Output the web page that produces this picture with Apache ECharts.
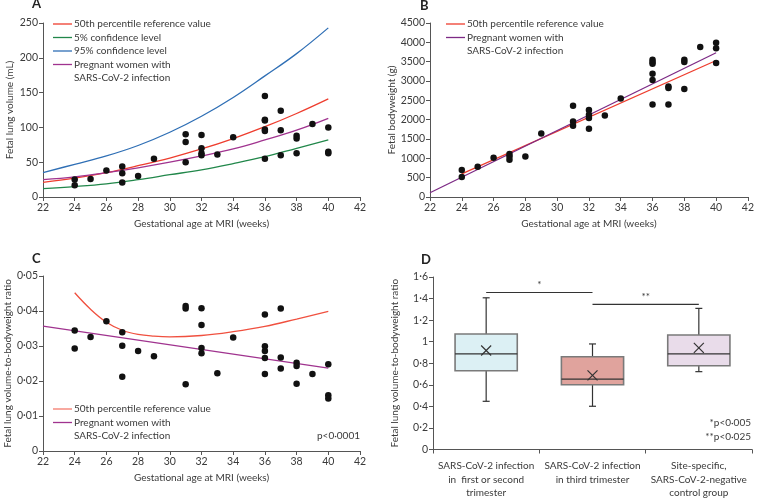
<!DOCTYPE html>
<html><head><meta charset="utf-8">
<script src="https://cdn.jsdelivr.net/npm/echarts@6/dist/echarts.min.js"></script>
<style>html,body{margin:0;padding:0;background:#fff}#c{width:757px;height:500px}</style>
</head><body><div id="c"></div>
<script>
const FONT = 'Lato, "Liberation Sans", sans-serif';
const FS = 10;      // titles / legend / annotations
const FT = 10.5;    // tick labels
const TXT = '#3a3a3a';
const AX = '#555';

// ---------- Panel A: fetal lung volume ----------
const lungVolumePts = [[24,25],[24,17],[25,26],[26,38],[27,44],[27,34],[27,21],[28,30],[29,55],
  [31,90],[31,79],[31,50],[32,89],[32,70],[32,63],[32,60],[33,61],[34,86],
  [36,145],[36,111],[36,110],[36,97],[36,95],[36,55],[37,124],[37,96],[37,60],
  [38,88],[38,84],[38,63],[39,105],[40,100],[40,65],[40,63]];
const curveWeeks = [22,24,26,28,30,32,34,36,38,40];
const lungRef50 = [21,27,35,45,56,69,84,101,120,141];
const lungRef5  = [12,15,19,25,32,39,48,58,70,82];
const lungRef95 = [35,47,59,74,93,116,143,174,206,243];
const lungCovid = [25,29,35,42,50,59,69,82,96,113];

// ---------- Panel B: fetal bodyweight ----------
const bodyweightPts = [[24,700],[24,520],[25,785],[26,1015],[27,1110],[27,1050],[27,965],[28,1045],[29,1645],
  [31,2360],[31,1955],[31,1845],[32,2250],[32,2130],[32,2045],[32,1765],[33,2105],[34,2545],
  [36,3550],[36,3490],[36,3445],[36,3190],[36,3025],[36,2390],[37,2860],[37,2820],[37,2390],
  [38,3550],[38,3490],[38,2790],[39,3880],[40,3990],[40,3850],[40,3465]];
const bwRefWeeks = [24,40];
const bwRef50 = [600,3530];
const bwCovidWeeks = [22,40];
const bwCovid = [110,3730];

// ---------- Panel C: lung volume-to-bodyweight ratio ----------
const ratioPts = [[24,0.0344],[24,0.0293],[25,0.0326],[26,0.0371],[27,0.0339],[27,0.0301],[27,0.0212],
  [28,0.0286],[29,0.0271],[31,0.0414],[31,0.0407],[31,0.0191],[32,0.0408],[32,0.0360],[32,0.0294],[32,0.0279],
  [33,0.0222],[34,0.0324],[36,0.0390],[36,0.0299],[36,0.0286],[36,0.0266],[36,0.0220],
  [37,0.0407],[37,0.0267],[37,0.0236],[38,0.0252],[38,0.0243],[38,0.0192],[39,0.0220],
  [40,0.0248],[40,0.0159],[40,0.0150]];
const ratioRefWeeks = [24,25,26,27,28,29,30,32,34,36,38,40];
const ratioRef50 = [0.0452,0.0405,0.0368,0.0345,0.0333,0.0328,0.0326,0.0330,0.0341,0.0356,0.0377,0.0399];
const ratioCovidWeeks = [22,40];
const ratioCovid = [0.0357,0.0237];

// ---------- Panel D: box plots ----------
const groups = ['SARS-CoV-2 infection\nin  first or second\ntrimester', 'SARS-CoV-2 infection\nin third trimester', 'Site-specific,\nSARS-CoV-2-negative\ncontrol group'];
const boxMin    = [0.447, 0.401, 0.722];
const boxQ1     = [0.731, 0.600, 0.777];
const boxMedian = [0.887, 0.652, 0.887];
const boxQ3     = [1.071, 0.860, 1.062];
const boxMax    = [1.407, 0.979, 1.309];
const boxMean   = [0.918, 0.688, 0.942];
const boxColors = ['#dcf0f4', '#e0a39d', '#e9dcea'];
const sigPairs  = [[0,1,1.456,'*'],[1,2,1.346,'**']];

const weekTicks = {min:22, max:42, interval:2};
const legendA = ['50th percentile reference value','5% confidence level','95% confidence level','Pregnant women with\nSARS-CoV-2 infection'];
const colorsA = ['#ee3d2e','#21874a','#2f6fb5','#a0338f'];

const zip = (xs, ys) => xs.map((x,i)=>[x, ys[i]]);
const dot = v => String(v).replace('.', '\u00b7');

function xValAxis(gi){
  return {type:'value', gridIndex:gi, min:weekTicks.min, max:weekTicks.max, interval:weekTicks.interval,
    name:'Gestational age at MRI (weeks)', nameLocation:'middle', nameGap:22,
    nameTextStyle:{fontFamily:FONT, fontSize:FS, color:TXT},
    axisLine:{lineStyle:{color:AX, width:1}}, axisTick:{show:true, length:4, lineStyle:{color:AX}},
    axisLabel:{fontFamily:FONT, fontSize:FT, color:TXT, margin:5}, splitLine:{show:false}};
}
function yAxis(gi, name, min, max, interval, gap, fmt){
  return {type:'value', gridIndex:gi, min, max, interval, name, nameLocation:'middle', nameGap:gap,
    nameTextStyle:{fontFamily:FONT, fontSize:FS, color:TXT},
    axisLine:{show:true, lineStyle:{color:AX, width:1}}, axisTick:{show:true, length:4, lineStyle:{color:AX}},
    axisLabel:{fontFamily:FONT, fontSize:FT, color:TXT, margin:5, formatter: fmt || (v=>String(v))},
    splitLine:{show:false}};
}
function lineS(name, xi, data, color, smooth){
  return {type:'line', name, xAxisIndex:xi, yAxisIndex:xi, data, smooth: smooth ? 0.4 : false,
    showSymbol:false, symbol:'none', lineStyle:{color, width:1.3}, itemStyle:{color}, z:2, silent:true};
}
function scatterS(xi, data){
  return {type:'scatter', xAxisIndex:xi, yAxisIndex:xi, data, symbolSize:6.5,
    itemStyle:{color:'#111', opacity:1}, z:3, silent:true};
}

function legendGraphic(x, y0, names, colors, step){
  const els = [];
  let y = y0;
  names.forEach((n,i)=>{
    const lines = n.split('\n');
    els.push({type:'line', shape:{x1:x, y1:y, x2:x+19, y2:y}, style:{stroke:colors[i], lineWidth:1.3}});
    lines.forEach((t,j)=>{
      els.push({type:'text', x:x+21, y:y + j*step, style:{text:t, font:FS+'px '+FONT, fill:TXT, verticalAlign:'middle', textAlign:'left'}});
    });
    y += step*lines.length;
  });
  return els;
}

const boxData = groups.map((g,i)=>[i, boxMin[i], boxQ1[i], boxMedian[i], boxQ3[i], boxMax[i], boxMean[i]]);

const option = {
  animation:false,
  backgroundColor:'#fff',
  grid:[
    {left:43, top:23, width:317, height:174},
    {left:430, top:23, width:322, height:174},
    {left:43, top:276, width:317, height:175},
    {left:433, top:277, width:319, height:174}
  ],
  xAxis:[ xValAxis(0), xValAxis(1), xValAxis(2),
    {type:'category', gridIndex:3, data:groups,
      axisLine:{lineStyle:{color:AX}}, axisTick:{show:true, length:4, lineStyle:{color:AX}},
      axisLabel:{fontFamily:FONT, fontSize:FS, color:TXT, margin:10, lineHeight:13.5, interval:0}}
  ],
  yAxis:[
    yAxis(0,'Fetal lung volume (mL)',0,250,50,28),
    yAxis(1,'Fetal bodyweight (g)',0,4500,500,31),
    yAxis(2,'Fetal lung volume-to-bodyweight ratio',0,0.05,0.01,29, v=> v===0?'0':dot(v.toFixed(2))),
    yAxis(3,'Fetal lung volume-to-bodyweight ratio',0,1.6,0.2,33, v=> v===0?'0':dot(+v.toFixed(1)))
  ],
  series:[
    lineS(legendA[1],0,zip(curveWeeks,lungRef5),colorsA[1],true),
    lineS(legendA[2],0,zip(curveWeeks,lungRef95),colorsA[2],true),
    lineS(legendA[0],0,zip(curveWeeks,lungRef50),colorsA[0],true),
    lineS(legendA[3],0,zip(curveWeeks,lungCovid),colorsA[3],true),
    scatterS(0,lungVolumePts),
    lineS(legendA[0],1,zip(bwRefWeeks,bwRef50),colorsA[0],false),
    lineS(legendA[3],1,zip(bwCovidWeeks,bwCovid),'#7d2a85',false),
    scatterS(1,bodyweightPts),
    lineS(legendA[0],2,zip(ratioRefWeeks,ratioRef50),'#f0503f',true),
    lineS(legendA[3],2,zip(ratioCovidWeeks,ratioCovid),colorsA[3],false),
    scatterS(2,ratioPts),
    {type:'custom', xAxisIndex:3, yAxisIndex:3, data:boxData, silent:true, z:2,
      encode:{x:0, y:[1,2,3,4,5,6]},
      renderItem:(params, api)=>{
        const i = api.value(0);
        const pMin = api.coord([i, api.value(1)]);
        const pQ1 = api.coord([i, api.value(2)]);
        const pMed = api.coord([i, api.value(3)]);
        const pQ3 = api.coord([i, api.value(4)]);
        const pMax = api.coord([i, api.value(5)]);
        const pMean = api.coord([i, api.value(6)]);
        const bw = api.size([1,0])[0]*0.585;
        const cx = pMed[0], cap = 3.5, xm = 5;
        const st = {stroke:'#333', lineWidth:1.2};
        return {type:'group', children:[
          {type:'line', shape:{x1:cx,y1:pMax[1],x2:cx,y2:pQ3[1]}, style:st},
          {type:'line', shape:{x1:cx-cap,y1:pMax[1],x2:cx+cap,y2:pMax[1]}, style:st},
          {type:'line', shape:{x1:cx,y1:pMin[1],x2:cx,y2:pQ1[1]}, style:st},
          {type:'line', shape:{x1:cx-cap,y1:pMin[1],x2:cx+cap,y2:pMin[1]}, style:st},
          {type:'rect', shape:{x:cx-bw/2, y:pQ3[1], width:bw, height:pQ1[1]-pQ3[1]},
            style:{fill:boxColors[i], stroke:'#7a7a7a', lineWidth:1.6}},
          {type:'line', shape:{x1:cx-bw/2,y1:pMed[1],x2:cx+bw/2,y2:pMed[1]}, style:st},
          {type:'line', shape:{x1:pMean[0]-xm,y1:pMean[1]-xm,x2:pMean[0]+xm,y2:pMean[1]+xm}, style:st},
          {type:'line', shape:{x1:pMean[0]-xm,y1:pMean[1]+xm,x2:pMean[0]+xm,y2:pMean[1]-xm}, style:st}
        ]};
      }},
    {type:'custom', xAxisIndex:3, yAxisIndex:3, data:sigPairs, silent:true, z:3,
      encode:{x:[0,1], y:2},
      renderItem:(params, api)=>{
        const a = api.coord([api.value(0), api.value(2)]);
        const b = api.coord([api.value(1), api.value(2)]);
        const label = sigPairs[params.dataIndex][3];
        return {type:'group', children:[
          {type:'line', shape:{x1:a[0],y1:a[1],x2:b[0],y2:b[1]}, style:{stroke:'#333', lineWidth:1.1}},
          {type:'text', x:(a[0]+b[0])/2, y:a[1]-3, style:{text:label, font:FS+'px '+FONT, fill:TXT, textAlign:'center', textVerticalAlign:'bottom'}}
        ]};
      }}
  ],
  graphic:[
    {type:'text', left:32, top:-3, style:{text:'A', font:'bold 13px '+FONT, fill:'#222'}},
    {type:'text', left:420, top:-1, style:{text:'B', font:'bold 13px '+FONT, fill:'#222'}},
    {type:'text', left:32, top:252, style:{text:'C', font:'bold 13px '+FONT, fill:'#222'}},
    {type:'text', left:421, top:253, style:{text:'D', font:'bold 13px '+FONT, fill:'#222'}},
    ...legendGraphic(53, 24, legendA, colorsA, 13.5),
    ...legendGraphic(446, 24, [legendA[0], legendA[3]], [colorsA[0], '#7d2a85'], 13.5),
    ...legendGraphic(53, 409, [legendA[0], legendA[3]], ['#f47a6c', colorsA[3]], 13.5),
    {type:'text', x:360, y:436, style:{text:'p<0\u00b70001', font:FS+'px '+FONT, fill:TXT, textAlign:'right', verticalAlign:'middle'}},
    {type:'text', x:751, y:423, style:{text:'*p<0\u00b7005', font:FS+'px '+FONT, fill:TXT, textAlign:'right', verticalAlign:'middle'}},
    {type:'text', x:751, y:437, style:{text:'**p<0\u00b7025', font:FS+'px '+FONT, fill:TXT, textAlign:'right', verticalAlign:'middle'}}
  ]
};
const chart = echarts.init(document.getElementById('c'), null, {renderer:'canvas'});
chart.setOption(option);
</script></body></html>
